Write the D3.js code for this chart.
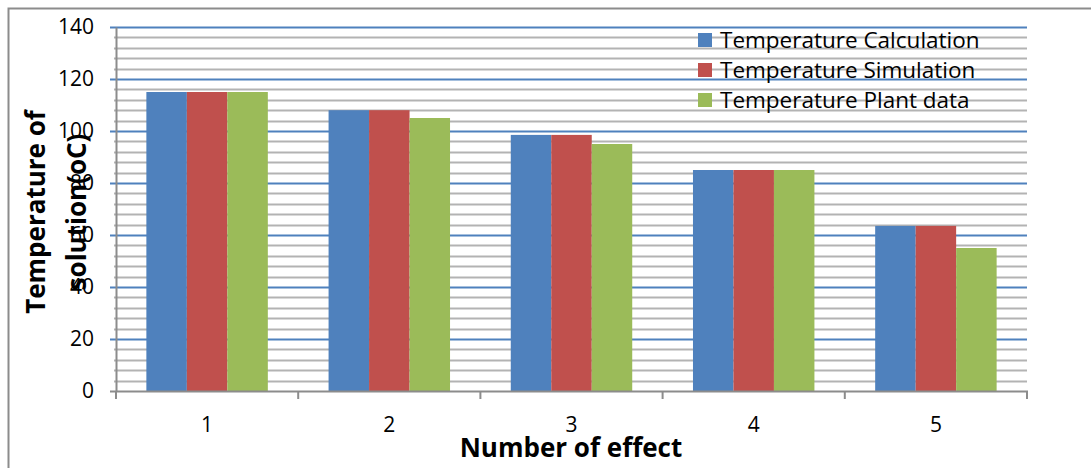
<!DOCTYPE html>
<html>
<head>
<script src="https://d3js.org/d3.v7.min.js"></script>
<style>
  body { margin: 0; background: #fff; }
  text { font-family: "Open Sans", "Liberation Sans", sans-serif; fill: #000; }
</style>
</head>
<body>
<svg width="1091" height="468"></svg>
<script>

const categories = ["1", "2", "3", "4", "5"];
const seriesNames = ["Temperature Calculation", "Temperature Simulation", "Temperature Plant data"];
const calcValues = [115, 108, 98.5, 85, 63.5];
const simValues = [115, 108, 98.5, 85, 63.5];
const plantValues = [115, 105, 95, 85, 55];
const yTicks = [0, 20, 40, 60, 80, 100, 120, 140];
const colors = ["#4f81bd", "#c0504d", "#9bbb59"];

var svg = d3.select("svg"),
    margin = {top: 27, left: 116, right: 64, bottom: 77},
    width = +svg.attr("width") - margin.left - margin.right,
    height = +svg.attr("height") - margin.top - margin.bottom;

// outer frame (top + left only visible)
svg.append("path")
    .attr("d", "M8.5,468 V8.5 H1091")
    .attr("fill", "none")
    .attr("stroke", "#8c8c8c")
    .attr("stroke-width", 2);

var g = svg.append("g").attr("transform", "translate(" + margin.left + "," + margin.top + ")");

var x0 = d3.scaleBand().domain(categories).range([0, width]).paddingInner(0).paddingOuter(0);
var x1 = d3.scaleBand().domain(d3.range(3)).range([x0.bandwidth() * 0.1667, x0.bandwidth() * 0.8333]);
var y = d3.scaleLinear().domain([0, 140]).range([height, 0]);

// minor gridlines every 4
g.selectAll(".minor")
    .data(d3.range(4, 140, 4).filter(function(v) { return v % 20 !== 0; }))
    .enter().append("line")
    .attr("x1", -2).attr("x2", width)
    .attr("y1", function(d) { return Math.round(y(d)) + 0.5; })
    .attr("y2", function(d) { return Math.round(y(d)) + 0.5; })
    .attr("stroke", "#b3b3b3")
    .attr("stroke-width", 2);

// major gridlines
g.selectAll(".major")
    .data(yTicks.slice(1))
    .enter().append("line")
    .attr("x1", -6).attr("x2", width)
    .attr("y1", function(d) { return Math.round(y(d)) + 0.5; })
    .attr("y2", function(d) { return Math.round(y(d)) + 0.5; })
    .attr("stroke", "#4f81bd")
    .attr("stroke-width", 2);

var data = categories.map(function(c, i) {
  return [calcValues[i], simValues[i], plantValues[i]];
});

var grp = g.selectAll(".grp")
    .data(data)
    .enter().append("g")
    .attr("transform", function(d, i) { return "translate(" + x0(categories[i]) + ",0)"; });

grp.selectAll("rect")
    .data(function(d) { return d; })
    .enter().append("rect")
    .attr("x", function(d, i) { return x1(i); })
    .attr("width", x1.bandwidth())
    .attr("y", function(d) { return y(d); })
    .attr("height", function(d) { return height - y(d); })
    .attr("fill", function(d, i) { return colors[i]; });

// y axis
var yAxis = g.append("g")
    .call(d3.axisLeft(y).tickValues(yTicks).tickSize(0).tickPadding(22));
yAxis.select(".domain").attr("stroke", "#8c8c8c").attr("stroke-width", 2);
yAxis.selectAll("text").style("font-size", "21px").style("font-family", "'Open Sans', sans-serif");

// x axis
g.append("line")
    .attr("x1", -6).attr("x2", width + 1)
    .attr("y1", height + 0.5).attr("y2", height + 0.5)
    .attr("stroke", "#8c8c8c").attr("stroke-width", 2);
g.selectAll(".xtick")
    .data(d3.range(categories.length + 1))
    .enter().append("line")
    .attr("x1", function(i) { return i * x0.step(); })
    .attr("x2", function(i) { return i * x0.step(); })
    .attr("y1", height).attr("y2", height + 8)
    .attr("stroke", "#8c8c8c").attr("stroke-width", 2);
g.selectAll(".xlabel")
    .data(categories)
    .enter().append("text")
    .attr("x", function(d) { return x0(d) + x0.bandwidth() / 2; })
    .attr("y", height + 41)
    .attr("text-anchor", "middle")
    .style("font-size", "21px")
    .text(function(d) { return d; });

// axis titles
svg.append("text")
    .attr("x", 571).attr("y", 457)
    .attr("text-anchor", "middle")
    .style("font-size", "26px").style("font-weight", "bold")
    .text("Number of effect");

var yt = svg.append("text")
    .attr("transform", "translate(0,212) rotate(-90)")
    .attr("text-anchor", "middle")
    .style("font-size", "26px").style("font-weight", "bold");
yt.append("tspan").attr("x", 0).attr("y", 45).text("Temperature of");
yt.append("tspan").attr("x", 0).attr("y", 86).text("solution(oC)");

// legend
var legend = svg.append("g").attr("transform", "translate(698,40)");
var li = legend.selectAll("g")
    .data(seriesNames)
    .enter().append("g")
    .attr("transform", function(d, i) { return "translate(0," + i * 30 + ")"; });
li.append("rect")
    .attr("x", 0).attr("y", -7).attr("width", 14).attr("height", 14)
    .attr("fill", function(d, i) { return colors[i]; });
li.append("text")
    .attr("x", 22).attr("y", 8)
    .style("font-size", "22.5px")
    .text(function(d) { return d; });

</script>
</body>
</html>
